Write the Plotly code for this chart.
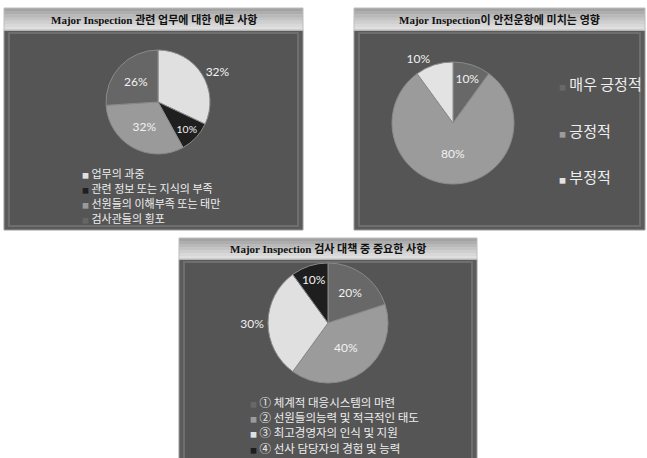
import plotly.graph_objects as go

W, H = 647, 458

# ---------------- data ----------------
titles = [
    "Major Inspection 관련 업무에 대한 애로 사항",
    "Major Inspection이 안전운항에 미치는 영향",
    "Major Inspection 검사 대책 중 중요한 사항",
]

p1_labels = ["업무의 과중", "관련 정보 또는 지식의 부족", "선원들의 이해부족 또는 태만", "검사관들의 횡포"]
p1_values = [32, 10, 32, 26]
p1_colors = ["#e0e0e0", "#1f1f1f", "#9a9a9a", "#666666"]
p1_textpos = ["outside", "inside", "inside", "inside"]

p2_labels = ["매우 긍정적", "긍정적", "부정적"]
p2_values = [10, 80, 10]
p2_colors = ["#686868", "#9b9b9b", "#e3e3e3"]
p2_textpos = ["inside", "inside", "outside"]

p3_labels = ["① 체계적 대응시스템의 마련", "② 선원들의능력 및 적극적인 태도",
             "③ 최고경영자의 인식 및 지원", "④ 선사 담당자의 경험 및 능력"]
p3_values = [20, 40, 30, 10]
p3_colors = ["#686868", "#9b9b9b", "#e0e0e0", "#1e1e1e"]
p3_textpos = ["inside", "inside", "outside", "inside"]

# ---------------- helpers (pixel -> paper) ----------------
def px(x):
    return x / W

def py(y):
    return 1 - y / H

shapes = []
annotations = []

def rect(x0, y0, x1, y1, fill, line="rgba(0,0,0,0)", lw=0):
    shapes.append(dict(type="rect", xref="paper", yref="paper",
                       x0=px(x0), x1=px(x1), y0=py(y1), y1=py(y0),
                       fillcolor=fill, line=dict(color=line, width=lw), layer="below"))

def panel(x0, x1, ytop, ytitle, ybot, title):
    rect(x0, ytitle, x1, ybot, "#5b5b5b", "#9a9a9a", 1)
    rect(x0 + 5, ytitle + 3, x1 - 5, ybot - 4, "#555555", "#6e6e6e", 2)
    grad = ["#a2a2a2", "#adadad", "#b9b9b9", "#c4c4c4", "#cfcfcf", "#d8d8d8", "#dfdfdf"]
    n = len(grad)
    h = (ytitle - ytop) / n
    for i, c in enumerate(grad):
        rect(x0, ytop + i * h, x1, ytop + (i + 1) * h + 0.5, c)
    rect(x0, ytop, x1, ytitle, "rgba(0,0,0,0)", "#bdbdbd", 1)
    annotations.append(dict(xref="paper", yref="paper", x=px((x0 + x1) / 2), y=py((ytop + ytitle) / 2),
                            text="<b>" + title + "</b>", showarrow=False,
                            xanchor="center", yanchor="middle",
                            font=dict(family="Liberation Serif, Noto Sans CJK KR", size=11, color="#111111")))

def legend_items(labels, colors, x, y0, step, size):
    for i, (lab, col) in enumerate(zip(labels, colors)):
        annotations.append(dict(
            xref="paper", yref="paper", x=px(x), y=py(y0 + i * step),
            xanchor="left", yanchor="middle", showarrow=False, borderpad=0,
            text=f"<span style='color:{col};font-size:7px'>■</span> {lab}",
            font=dict(family="Noto Sans CJK KR", size=size, color="#eeeeee")))

panel(4, 303, 8, 30, 230, titles[0])
panel(354, 645, 8, 30, 230, titles[1])
panel(179, 477, 238, 259, 470, titles[2])

def pie(labels, values, colors, textpos, cx, cy, r):
    return go.Pie(
        labels=labels, values=values, sort=False, direction="clockwise", rotation=0,
        marker=dict(colors=colors, line=dict(color="#8a8a8a", width=1)),
        texttemplate="%{value}%", textposition=textpos,
        insidetextorientation="horizontal",
        textfont=dict(family="Lato", size=12, color="#f2f2f2"),
        insidetextfont=dict(family="Lato", size=12, color="#f2f2f2"),
        outsidetextfont=dict(family="Lato", size=12, color="#f2f2f2"),
        domain=dict(x=[px(cx - r), px(cx + r)], y=[py(cy + r), py(cy - r)]),
        showlegend=False, hoverinfo="label+percent",
    )

fig = go.Figure()
fig.add_trace(pie(p1_labels, p1_values, p1_colors, p1_textpos, 158, 102, 52))
fig.add_trace(pie(p2_labels, p2_values, p2_colors, p2_textpos, 453, 123, 61))
fig.add_trace(pie(p3_labels, p3_values, p3_colors, p3_textpos, 328, 323, 60))

legend_items(p1_labels, p1_colors, 81, 173, 15, 11)
legend_items(p2_labels, p2_colors, 558, 84, 46, 15)
legend_items(p3_labels, p3_colors, 249, 402, 15.2, 11.5)

fig.update_layout(
    width=W, height=H, margin=dict(l=0, r=0, t=0, b=0),
    paper_bgcolor="white", plot_bgcolor="white",
    shapes=shapes, annotations=annotations, showlegend=False,
)

fig.write_html("out.html", config={"displayModeBar": False},
               post_script="document.body.style.margin='0';")
